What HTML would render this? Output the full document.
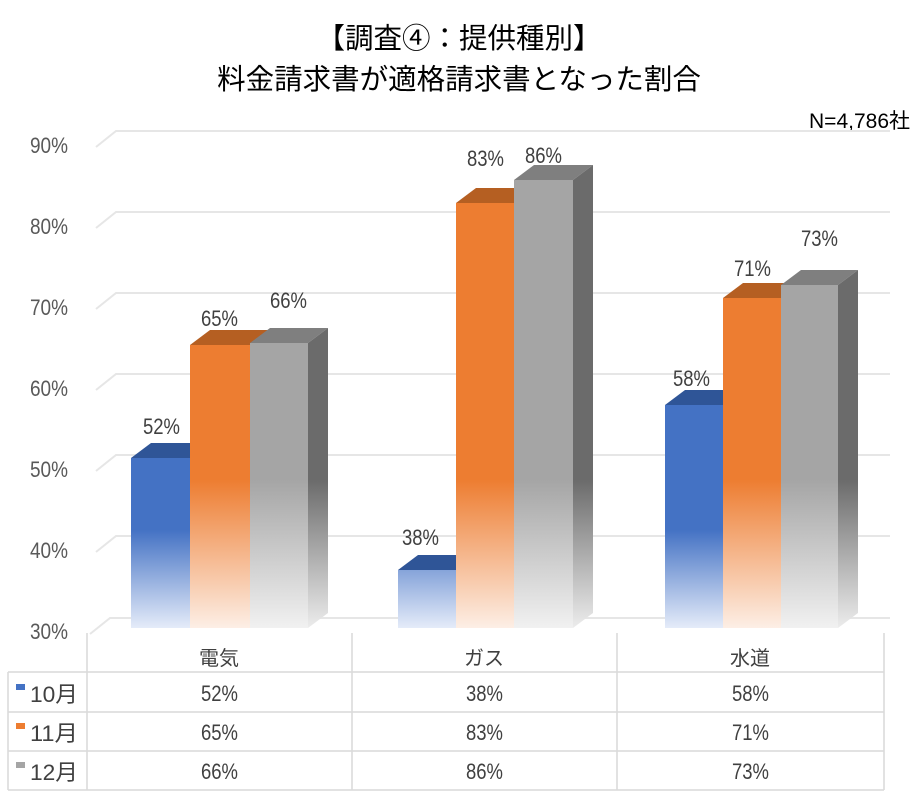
<!DOCTYPE html>
<html><head><meta charset="utf-8"><style>
body{margin:0;background:#fff;}
svg text{font-family:"Liberation Sans","Noto Sans CJK JP",sans-serif;}
.t{font-family:"Liberation Sans","Noto Sans CJK JP",sans-serif;}
</style></head><body>
<svg width="918" height="804" viewBox="0 0 918 804" xmlns="http://www.w3.org/2000/svg">
<defs>
<linearGradient id="gb" gradientUnits="userSpaceOnUse" x1="0" y1="530" x2="0" y2="630"><stop offset="0" stop-color="#4472c4"/><stop offset="1" stop-color="#e8eefa"/></linearGradient>
<linearGradient id="go" gradientUnits="userSpaceOnUse" x1="0" y1="480" x2="0" y2="630"><stop offset="0" stop-color="#ed7d31"/><stop offset="1" stop-color="#fdf0e8"/></linearGradient>
<linearGradient id="gg" gradientUnits="userSpaceOnUse" x1="0" y1="480" x2="0" y2="630"><stop offset="0" stop-color="#a5a5a5"/><stop offset="1" stop-color="#f2f2f2"/></linearGradient>
<linearGradient id="gs" gradientUnits="userSpaceOnUse" x1="0" y1="480" x2="0" y2="630"><stop offset="0" stop-color="#6b6b6b"/><stop offset="1" stop-color="#eeeeee"/></linearGradient>
</defs>
<text class="t" x="459" y="48" font-size="28.5" text-anchor="middle" fill="#000">【調査④：提供種別】</text>
<text class="t" x="459" y="89" font-size="28.5" text-anchor="middle" fill="#000">料金請求書が適格請求書となった割合</text>
<text class="t" x="910" y="128" font-size="21" text-anchor="end" fill="#000">N=4,786社</text>
<g stroke="#e6e6e6" stroke-width="2" fill="none">
<path d="M96 147 L116 131 H890"/><path d="M96 228 L116 212 H890"/><path d="M96 309 L116 293 H890"/><path d="M96 390 L116 374 H890"/><path d="M96 471 L116 455 H890"/><path d="M96 552 L116 536 H890"/><path d="M90 634 L110 618 H890"/>
</g>
<g font-size="22" fill="#595959">
<text x="30" y="153" textLength="38" lengthAdjust="spacingAndGlyphs">90%</text><text x="30" y="234" textLength="38" lengthAdjust="spacingAndGlyphs">80%</text><text x="30" y="315" textLength="38" lengthAdjust="spacingAndGlyphs">70%</text><text x="30" y="396" textLength="38" lengthAdjust="spacingAndGlyphs">60%</text><text x="30" y="477" textLength="38" lengthAdjust="spacingAndGlyphs">50%</text><text x="30" y="558" textLength="38" lengthAdjust="spacingAndGlyphs">40%</text><text x="30" y="639" textLength="38" lengthAdjust="spacingAndGlyphs">30%</text>
</g>
<g>
<polygon points="131,458 151,443 210,443 190,458" fill="#2f5597"/>
<rect x="131" y="458" width="59" height="170" fill="url(#gb)"/>
<polygon points="190,345 210,330 270,330 250,345" fill="#b55f22"/>
<rect x="190" y="345" width="60" height="283" fill="url(#go)"/>
<polygon points="250,343 270,328 328,328 308,343" fill="#7f7f7f"/>
<polygon points="308,343 328,328 328,613 308,628" fill="url(#gs)"/>
<rect x="250" y="343" width="58" height="285" fill="url(#gg)"/>
<polygon points="398,570 418,555 476,555 456,570" fill="#2f5597"/>
<polygon points="456,570 476,555 476,613 456,628" fill="#555"/>
<rect x="398" y="570" width="58" height="58" fill="url(#gb)"/>
<polygon points="456,203 476,188 534,188 514,203" fill="#b55f22"/>
<rect x="456" y="203" width="58" height="425" fill="url(#go)"/>
<polygon points="514,180 534,165 593,165 573,180" fill="#7f7f7f"/>
<polygon points="573,180 593,165 593,613 573,628" fill="url(#gs)"/>
<rect x="514" y="180" width="59" height="448" fill="url(#gg)"/>
<polygon points="665,405 685,390 743,390 723,405" fill="#2f5597"/>
<rect x="665" y="405" width="58" height="223" fill="url(#gb)"/>
<polygon points="723,298 743,283 801,283 781,298" fill="#b55f22"/>
<rect x="723" y="298" width="58" height="330" fill="url(#go)"/>
<polygon points="781,285 801,270 858,270 838,285" fill="#7f7f7f"/>
<polygon points="838,285 858,270 858,613 838,628" fill="url(#gs)"/>
<rect x="781" y="285" width="57" height="343" fill="url(#gg)"/>
</g>
<g font-size="22" fill="#404040">
<text x="143" y="434" textLength="37" lengthAdjust="spacingAndGlyphs">52%</text><text x="201" y="326" textLength="37" lengthAdjust="spacingAndGlyphs">65%</text><text x="270" y="308" textLength="37" lengthAdjust="spacingAndGlyphs">66%</text>
<text x="402" y="545" textLength="37" lengthAdjust="spacingAndGlyphs">38%</text><text x="467" y="166" textLength="37" lengthAdjust="spacingAndGlyphs">83%</text><text x="525" y="163" textLength="37" lengthAdjust="spacingAndGlyphs">86%</text>
<text x="673" y="386" textLength="37" lengthAdjust="spacingAndGlyphs">58%</text><text x="734" y="276" textLength="37" lengthAdjust="spacingAndGlyphs">71%</text><text x="801" y="246" textLength="37" lengthAdjust="spacingAndGlyphs">73%</text>
</g>
<g stroke="#d9d9d9" stroke-width="1.5" fill="none">
<path d="M8 672 H884 M8 712 H884 M8 751 H884 M8 790 H884"/>
<path d="M8 672 V790 M87 633 V790 M352 633 V790 M617 633 V790 M884 633 V790"/>
</g>
<g font-size="20" fill="#404040" text-anchor="middle">
<text x="219" y="665" font-family="'Noto Sans CJK JP',sans-serif">電気</text>
<text x="484" y="665" font-family="'Noto Sans CJK JP',sans-serif">ガス</text>
<text x="750" y="665" font-family="'Noto Sans CJK JP',sans-serif">水道</text>
</g>
<g font-size="22" fill="#404040">
<text x="201" y="701" textLength="37" lengthAdjust="spacingAndGlyphs">52%</text><text x="466" y="701" textLength="37" lengthAdjust="spacingAndGlyphs">38%</text><text x="732" y="701" textLength="37" lengthAdjust="spacingAndGlyphs">58%</text>
<text x="201" y="740" textLength="37" lengthAdjust="spacingAndGlyphs">65%</text><text x="466" y="740" textLength="37" lengthAdjust="spacingAndGlyphs">83%</text><text x="732" y="740" textLength="37" lengthAdjust="spacingAndGlyphs">71%</text>
<text x="201" y="779" textLength="37" lengthAdjust="spacingAndGlyphs">66%</text><text x="466" y="779" textLength="37" lengthAdjust="spacingAndGlyphs">86%</text><text x="732" y="779" textLength="37" lengthAdjust="spacingAndGlyphs">73%</text>
</g>
<rect x="16" y="684" width="9" height="6" fill="#4472c4"/>
<rect x="16" y="723" width="9" height="6" fill="#ed7d31"/>
<rect x="16" y="762" width="9" height="6" fill="#a5a5a5"/>
<g font-size="22" fill="#404040">
<text x="30" y="702" textLength="48" lengthAdjust="spacingAndGlyphs">10月</text><text x="30" y="741" textLength="48" lengthAdjust="spacingAndGlyphs">11月</text><text x="30" y="780" textLength="48" lengthAdjust="spacingAndGlyphs">12月</text>
</g>
</svg>
</body></html>
